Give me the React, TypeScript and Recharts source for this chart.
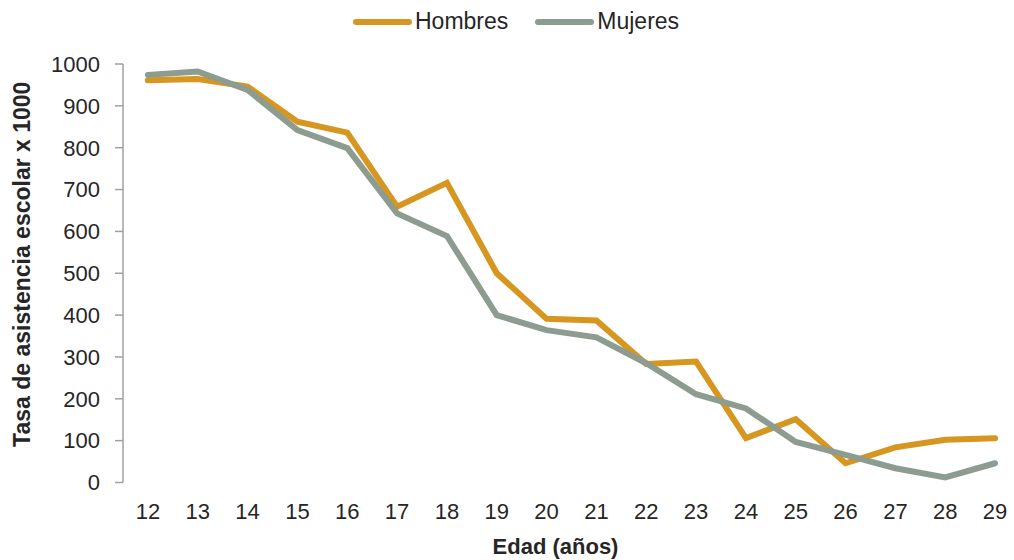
import { LineChart, Line, XAxis, YAxis, Legend, Label } from "recharts";

const edades = [12, 13, 14, 15, 16, 17, 18, 19, 20, 21, 22, 23, 24, 25, 26, 27, 28, 29];
const hombres = [961, 964, 946, 862, 836, 659, 716, 500, 391, 387, 283, 289, 106, 151, 46, 84, 102, 106];
const mujeres = [974, 982, 938, 842, 799, 643, 589, 400, 364, 347, 285, 211, 177, 97, 66, 34, 12, 46];
const yTicks = [0, 100, 200, 300, 400, 500, 600, 700, 800, 900, 1000];

const series = [
  { key: "Hombres", color: "#D6961F" },
  { key: "Mujeres", color: "#8C9C90" },
];

const FONT = '"Liberation Sans", Arial, sans-serif';
const TEXT = "#262626";
const AXIS = "#a0a0a0";

const CHART_W = 1020;
const CHART_H = 560;
const PLOT_TOP = 64;
const PLOT_BOTTOM = 482.5;

const data = edades.map((edad, i) => ({
  edad,
  Hombres: hombres[i],
  Mujeres: mujeres[i],
}));

// tick marks sit between categories, like Excel
const boundaries = [...edades.map((e) => e - 0.5), edades[edades.length - 1] + 0.5];
const domain = [boundaries[0], boundaries[boundaries.length - 1]];

function LegendContent() {
  return (
    <div style={{ display: "flex", alignItems: "center", fontFamily: FONT, fontSize: 23, color: TEXT }}>
      {series.map((s, i) => (
        <div key={s.key} style={{ display: "flex", alignItems: "center", marginLeft: i ? 27 : 0 }}>
          <span style={{ width: 59, height: 6, background: s.color, borderRadius: 3, display: "inline-block" }} />
          <span style={{ marginLeft: 3 }}>{s.key}</span>
        </div>
      ))}
    </div>
  );
}

function YTitle(props: any) {
  const vb = props.viewBox || { x: 0, y: PLOT_TOP, width: 123, height: PLOT_BOTTOM - PLOT_TOP };
  const x = vb.x + 22;
  const y = vb.y + vb.height / 2 - 9;
  return (
    <text
      x={x}
      y={y}
      transform={`rotate(-90, ${x}, ${y})`}
      textAnchor="middle"
      dominantBaseline="central"
      fontFamily={FONT}
      fontWeight="bold"
      fontSize={23}
      fill={TEXT}
    >
      Tasa de asistencia escolar x 1000
    </text>
  );
}

function XTitle(props: any) {
  const vb = props.viewBox || { x: 123, y: PLOT_BOTTOM, width: 897, height: CHART_H - PLOT_BOTTOM };
  const x = vb.x + vb.width / 2 - 16;
  const y = vb.y + 64;
  return (
    <text x={x} y={y} textAnchor="middle" dominantBaseline="central" fontFamily={FONT} fontWeight="bold" fontSize={22} fill={TEXT}>
      Edad (años)
    </text>
  );
}

export default function App() {
  return (
    <div style={{ position: "absolute", left: 0, top: 0, width: 1014, height: 560, overflow: "hidden", background: "#fff" }}>
      <LineChart width={CHART_W} height={CHART_H} data={data} margin={{ top: PLOT_TOP, right: 0, bottom: 0, left: 0 }}>
        <XAxis
          xAxisId="bounds"
          dataKey="edad"
          type="number"
          domain={domain}
          ticks={boundaries}
          interval={0}
          tick={false}
          height={0}
          tickSize={7}
          axisLine={{ stroke: AXIS, strokeWidth: 1.5 }}
          tickLine={{ stroke: AXIS, strokeWidth: 1.5 }}
        />
        <XAxis
          dataKey="edad"
          type="number"
          domain={domain}
          ticks={edades}
          interval={0}
          height={CHART_H - PLOT_BOTTOM}
          axisLine={false}
          tickLine={false}
          tickSize={0}
          tickMargin={21}
          tick={{ fill: TEXT, fontSize: 22, fontFamily: FONT }}
        >
          <Label content={XTitle} />
        </XAxis>
        <YAxis
          width={123}
          domain={[0, 1000]}
          ticks={yTicks}
          interval={0}
          tickSize={8}
          tickMargin={15}
          axisLine={{ stroke: AXIS, strokeWidth: 1.5 }}
          tickLine={{ stroke: AXIS, strokeWidth: 1.5 }}
          tick={{ fill: TEXT, fontSize: 22, fontFamily: FONT }}
        >
          <Label content={YTitle} />
        </YAxis>
        <Legend
          layout="horizontal"
          verticalAlign="middle"
          align="center"
          wrapperStyle={{ top: 8, left: 353, width: 400 }}
          content={LegendContent}
        />
        {series.map((s) => (
          <Line
            key={s.key}
            dataKey={s.key}
            stroke={s.color}
            strokeWidth={6}
            strokeLinecap="round"
            dot={false}
            activeDot={false}
            isAnimationActive={false}
          />
        ))}
      </LineChart>
    </div>
  );
}
